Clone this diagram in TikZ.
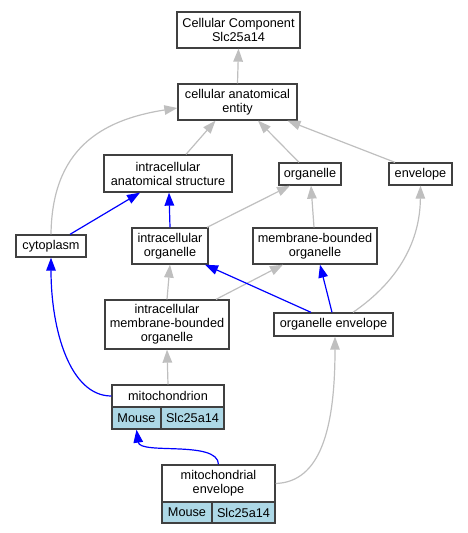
\documentclass[tikz,border=0pt]{standalone}
\usepackage{fontspec}
\setmainfont{Liberation Sans}
\usetikzlibrary{arrows.meta}
\definecolor{cellblue}{RGB}{173,216,230}

\begin{document}
\begin{tikzpicture}[x=1pt,y=-1pt,
	box/.style={draw=black!75,line width=1.3pt,fill=white,inner sep=0pt,align=center,font=\fontsize{12.7}{14}\selectfont},
	cell/.style={box,fill=cellblue},
	gedge/.style={draw=black!25,line width=1.2pt,-{Triangle[length=13pt,width=9.5pt]}},
	bedge/.style={gedge,draw=blue}]
	\useasboundingbox (0,0) rectangle (467,533);
	\node[box,minimum width=123pt,minimum height=36pt] (cc) at (238.5,30) {Cellular Component\\Slc25a14};
	\node[box,minimum width=119pt,minimum height=36pt] (cae) at (237.5,102) {cellular anatomical\\entity};
	\node[box,minimum width=128pt,minimum height=37pt] (ias) at (168,173.5) {intracellular\\anatomical structure};
	\node[box,minimum width=62pt,minimum height=22pt] (org) at (310,174) {organelle};
	\node[box,minimum width=63pt,minimum height=22pt] (env) at (420.5,174) {envelope};
	\node[box,minimum width=70pt,minimum height=22pt] (cyt) at (51,246) {cytoplasm};
	\node[box,minimum width=76pt,minimum height=36pt] (io) at (170,246) {intracellular\\organelle};
	\node[box,minimum width=124pt,minimum height=36pt] (mbo) at (315,246) {membrane-bounded\\organelle};
	\node[box,minimum width=124pt,minimum height=49pt] (imbo) at (167,324.5) {intracellular\\membrane-bounded\\organelle};
	\node[box,minimum width=119pt,minimum height=23pt] (oe) at (333.5,324.5) {organelle envelope};
	\node[box,minimum width=112pt,minimum height=22pt] (mito) at (168,396) {mitochondrion};
	\node[cell,minimum width=49pt,minimum height=22pt] (mitoM) at (136.5,418) {Mouse};
	\node[cell,minimum width=63pt,minimum height=22pt] (mitoS) at (192.5,418) {Slc25a14};
	\node[box,minimum width=113pt,minimum height=37pt] (menv) at (218.5,483.5) {mitochondrial\\envelope};
	\node[cell,minimum width=50pt,minimum height=21pt] (menvM) at (187,512.5) {Mouse};
	\node[cell,minimum width=63pt,minimum height=21pt] (menvS) at (243.5,512.5) {Slc25a14};
	\draw[gedge] (cae.north) -- (cc.south);
	\draw[gedge] ([xshift=18pt]ias.north) -- ([xshift=-22pt]cae.south);
	\draw[gedge] ([xshift=-11pt]org.north) -- ([xshift=20.5pt]cae.south);
	\draw[gedge] ([xshift=-25.5pt]env.north) -- ([xshift=50pt]cae.south);
	\draw[gedge] (cyt.north) .. controls (52,150) and (100,120) .. ([yshift=-6pt]cae.west);
	\draw[bedge] ([xshift=19pt]cyt.north) -- ([xshift=-28pt]ias.south);
	\draw[bedge] (io.north) -- ([xshift=1pt]ias.south);
	\draw[gedge] ([xshift=37pt]io.north) -- ([xshift=-20pt]org.south);
	\draw[gedge] ([xshift=-1pt]mbo.north) -- ([xshift=1pt]org.south);
	\draw[gedge] ([xshift=19.5pt]oe.north) .. controls (400,280) and (420,240) .. (env.south);
	\draw[gedge] (imbo.north) -- (io.south);
	\draw[gedge] ([xshift=49pt]imbo.north) -- ([xshift=-32pt]mbo.south);
	\draw[bedge] ([xshift=-22.5pt]oe.north) -- ([xshift=35pt]io.south);
	\draw[bedge] ([xshift=-1.5pt]oe.north) -- ([xshift=5pt]mbo.south);
	\draw[gedge] (mito.north) -- (imbo.south);
	\draw[bedge] (mito.west) .. controls (70,396) and (51,330) .. (cyt.south);
	\draw[bedge] (menv.north) .. controls (218,440) and (140,455) .. (mitoM.south);
	\draw[gedge] (menv.east) .. controls (320,482) and (335,430) .. ([xshift=1.5pt]oe.south);
\end{tikzpicture}
\end{document}
